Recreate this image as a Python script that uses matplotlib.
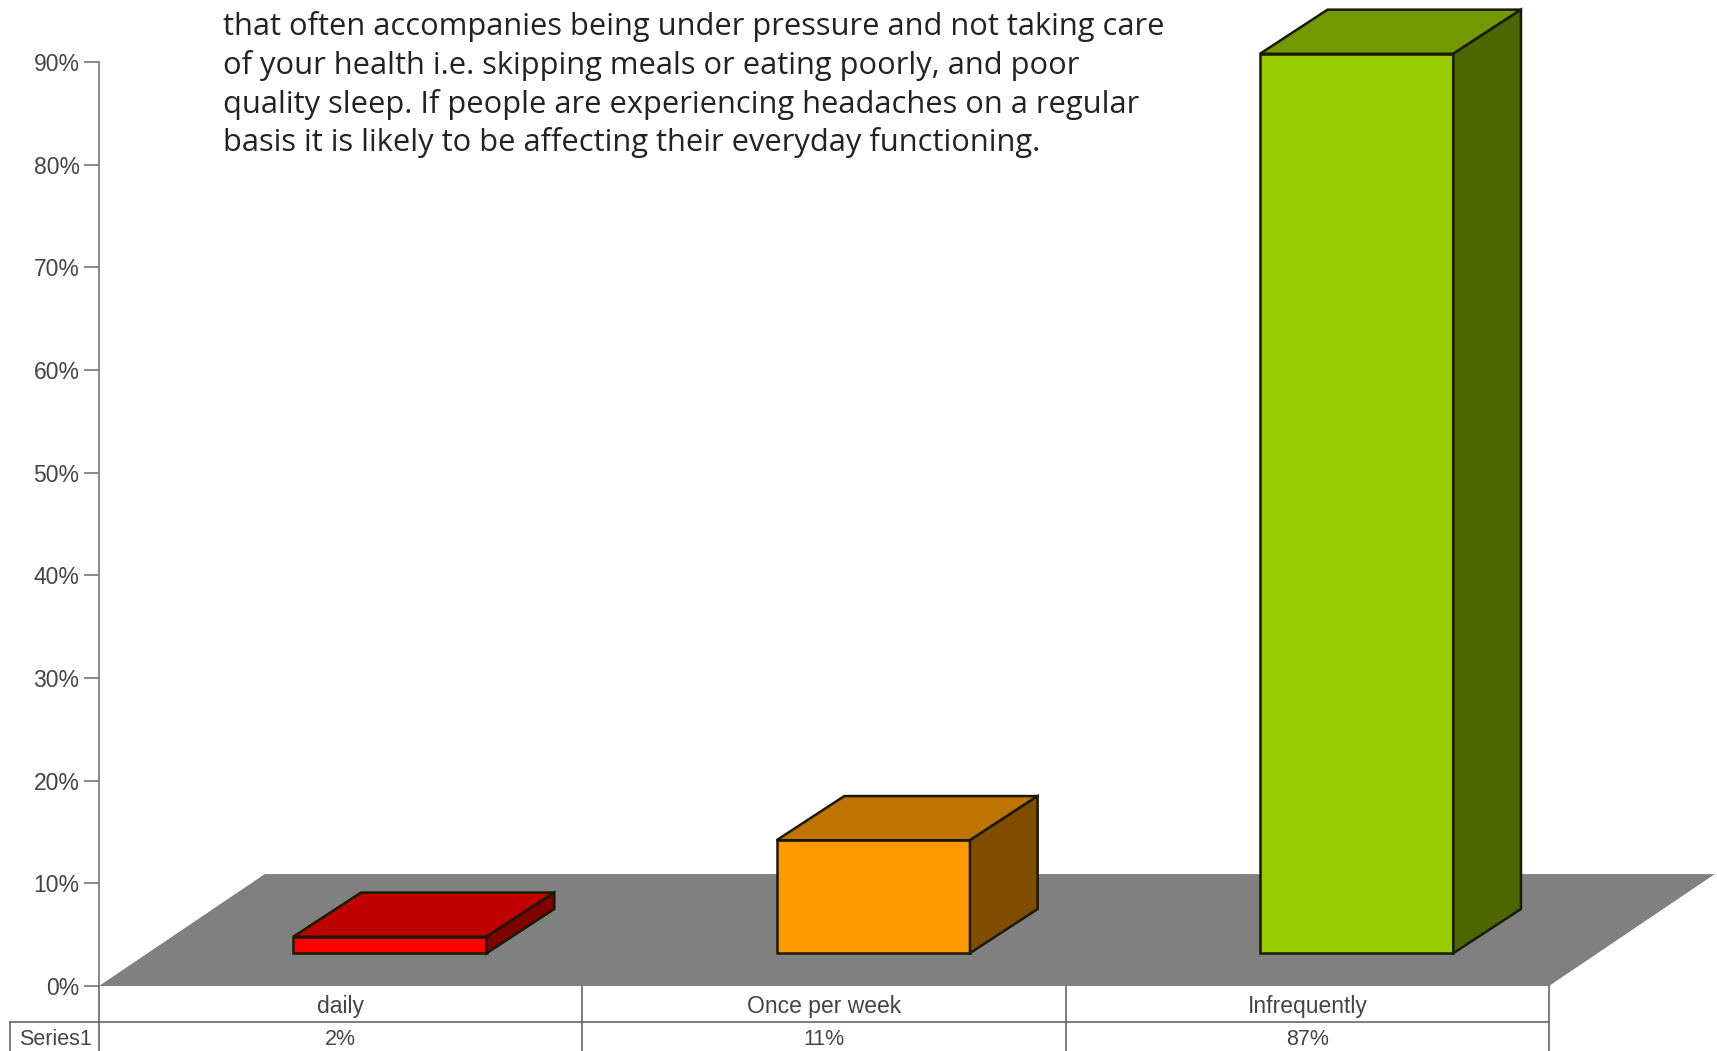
import matplotlib
matplotlib.use("Agg")
import matplotlib.pyplot as plt

categories = ["daily", "Once per week", "Infrequently"]
values = [1.6, 11, 87.6]
value_labels = ["2%", "11%", "87%"]
series_name = "Series1"
yticks = [0, 10, 20, 30, 40, 50, 60, 70, 80, 90]
note_lines = [
    "that often accompanies being under pressure and not taking care",
    "of your health i.e. skipping meals or eating poorly, and poor",
    "quality sleep. If people are experiencing headaches on a regular",
    "basis it is likely to be affecting their everyday functioning.",
]
front_colors = ["#ff0000", "#ff9900", "#99cc00"]
top_colors = ["#bf0000", "#bf7300", "#739900"]
side_colors = ["#800000", "#804d00", "#4d6600"]

W, H = 1717, 1051
fig = plt.figure(figsize=(W / 100, H / 100), dpi=100, facecolor="white")
# plot area in pixels: x 99..1549, y 62..986
ax = fig.add_axes([99 / W, 1 - 986 / H, 1450 / W, 924 / H])
ax.set_xlim(0, 3)
ax.set_ylim(0, 90)
ax.patch.set_visible(False)

# floor
floor_dx, floor_dy = 0.343, 10.9
ax.fill([0, floor_dx, 3 + floor_dx, 3], [0, floor_dy, floor_dy, 0], color="#808080", lw=0, clip_on=False, zorder=1)

# bars with fake 3d
base = 3.2
bar_w = 0.4
dx, dy = 0.14, 4.3
edge = "#1a1a00"
for i, v in enumerate(values):
    x0 = i + 0.402
    x1 = x0 + bar_w
    top = base + v
    ax.fill([x0, x1, x1, x0], [base, base, top, top], facecolor=front_colors[i], edgecolor=edge, lw=1.8, clip_on=False, zorder=3)
    ax.fill([x0, x1, x1 + dx, x0 + dx], [top, top, top + dy, top + dy], facecolor=top_colors[i], edgecolor=edge, lw=1.8, clip_on=False, zorder=3)
    ax.fill([x1, x1 + dx, x1 + dx, x1], [base, base + dy, top + dy, top], facecolor=side_colors[i], edgecolor=edge, lw=1.8, clip_on=False, zorder=3)

# axis
for s in ["top", "right", "bottom"]:
    ax.spines[s].set_visible(False)
ax.spines["left"].set_color("#777777")
ax.spines["left"].set_linewidth(1.2)
ax.set_xticks([])
ax.set_yticks(yticks)
ax.set_yticklabels(["{}%".format(t) for t in yticks], fontfamily="Liberation Sans", fontsize=16.5, color="#444444")
ax.tick_params(axis="y", length=11, width=1.2, color="#777777", pad=3)

# data table under the axis
row1 = -3.5
row2 = -6.4
line = dict(color="#666666", lw=1.2, clip_on=False, zorder=2)
ax.plot([-0.185, 3], [row1, row1], **line)
for x in [0, 1, 2, 3]:
    ax.plot([x, x], [0, row2], **line)
ax.plot([-0.185, -0.185], [row1, row2], **line)
for i, c in enumerate(categories):
    ax.text(i + 0.5, -1.95, c, ha="center", va="center", fontfamily="Liberation Sans", fontsize=16.5, color="#444444")
    ax.text(i + 0.5, -5.2, value_labels[i], ha="center", va="center", fontfamily="Liberation Sans", fontsize=15.5, color="#444444")
ax.text(-0.09, -5.2, series_name, ha="center", va="center", fontfamily="Liberation Sans", fontsize=15.5, color="#444444")

# text over the chart
for i, s in enumerate(note_lines):
    fig.text(223 / W, 1 - (27 + i * 38.5) / H, s, ha="left", va="center", fontfamily="Open Sans", fontsize=22.2, color="#222222")

fig.savefig("out.png", dpi=100)
